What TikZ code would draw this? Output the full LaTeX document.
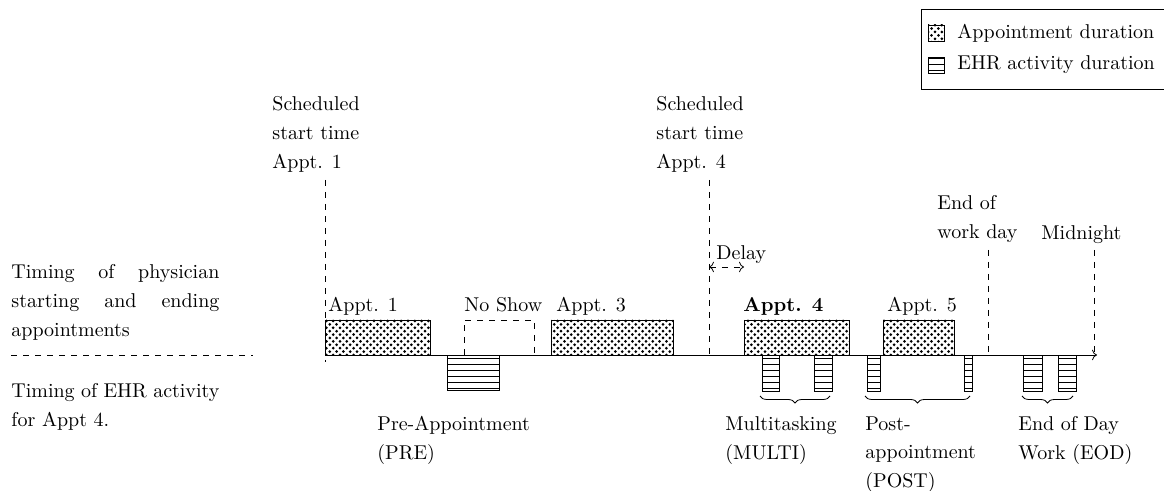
\documentclass[tikz,border=0pt]{standalone}
\usepackage{tikz}
\usetikzlibrary{positioning, arrows.meta, patterns, decorations.pathreplacing}

\pgfdeclarepatternformonly{appt dots}{\pgfqpoint{-1pt}{-1pt}}{\pgfqpoint{5pt}{5pt}}{\pgfqpoint{3.4pt}{3.4pt}}{%
  \pgfpathcircle{\pgfqpoint{0pt}{0pt}}{.75pt}%
  \pgfpathcircle{\pgfqpoint{1.7pt}{1.7pt}}{.75pt}%
  \pgfusepath{fill}}

\begin{document}
\begin{tikzpicture}[x=0.5pt, y=0.5pt,
    txt/.style={anchor=north west, inner sep=0pt, align=left, font=\linespread{1.2}\selectfont},
    lbl/.style={anchor=base west, inner sep=0pt},
    apptbox/.style={draw, pattern=appt dots},
    ehrbox/.style={draw, pattern=horizontal lines},
    swatch/.style={draw, inner sep=0pt, minimum size=8pt},
    curly/.style={decorate, decoration={brace, mirror, amplitude=3.5pt}}]
    \useasboundingbox (0,0) rectangle (1164,-491);
    \clip (0,0) rectangle (1164,-491);

    % legend
    \draw (921,-9) rectangle (1170,-89);
    \node (legappt) [swatch, pattern=appt dots] at (936,-33) {};
    \node (legapptlbl) [right=3pt of legappt] {Appointment duration};
    \node (legehr) [swatch, pattern=horizontal lines] at (936,-65) {};
    \node (legehrlbl) [right=3pt of legehr] {EHR activity duration};

    % row captions on the left
    \node (physlbl) [txt, text width=104pt, align=justify] at (11,-264) {Timing of physician starting and ending appointments};
    \coordinate (sepl) at (11,-355);
    \coordinate (sepr) at (253,-355);
    \draw [dashed] (sepl) -- (sepr);
    \node (ehrlbl) [txt, text width=104pt, align=justify] at (11,-383) {Timing of EHR activity for Appt 4.};

    % time axis
    \coordinate (t0) at (325,-355);
    \coordinate (tend) at (1097,-355);
    \draw [->] (t0) -- (tend);

    % scheduled start times
    \node (sched1) [txt] at (272,-96) {Scheduled\\start time\\Appt. 1};
    \node (sched4) [txt] at (656,-96) {Scheduled\\start time\\Appt. 4};
    \coordinate (s1top) at (325,-180);
    \coordinate (s1bot) at (325,-362);
    \coordinate (s4top) at (709,-180);
    \coordinate (s4bot) at (709,-355);
    \draw [dashed] (s1top) -- (s1bot);
    \draw [dashed] (s4top) -- (s4bot);

    % delay
    \coordinate (dl) at (709,-267);
    \coordinate (dr) at (744,-267);
    \draw [dashed, <->] (dl) -- (dr);
    \node (delay) [lbl] at (716,-260) {Delay};

    % appointments
    \draw [apptbox] (325,-320) rectangle (430,-355);
    \node (appt1) [lbl] at (328,-312) {Appt. 1};
    \draw [dashed] (464,-355) -- (464,-320) -- (534,-320) -- (534,-355);
    \node (noshow) [lbl] at (464,-312) {No Show};
    \draw [apptbox] (551,-320) rectangle (673,-355);
    \node (appt3) [lbl] at (556,-312) {Appt. 3};
    \draw [apptbox] (744,-320) rectangle (849,-355);
    \node (appt4) [lbl] at (743,-312) {\textbf{Appt. 4}};
    \draw [apptbox] (883,-320) rectangle (954,-355);
    \node (appt5) [lbl] at (887,-312) {Appt. 5};

    % end of work day and midnight
    \node (eowd) [txt] at (937,-195) {End of\\work day};
    \node (midn) [lbl] at (1041,-240) {Midnight};
    \coordinate (eowdtop) at (988,-250);
    \coordinate (eowdbot) at (988,-355);
    \coordinate (midntop) at (1094,-250);
    \coordinate (midnbot) at (1094,-355);
    \draw [dashed] (eowdtop) -- (eowdbot);
    \draw [dashed] (midntop) -- (midnbot);

    % EHR activity
    \draw [ehrbox] (447,-355) rectangle (499,-390);
    \draw [ehrbox] (762,-355) rectangle (779,-391);
    \draw [ehrbox] (814,-355) rectangle (832,-391);
    \draw [ehrbox] (867,-355) rectangle (880,-391);
    \draw [ehrbox] (964,-355) rectangle (972,-391);
    \draw [ehrbox] (1023,-355) rectangle (1042,-391);
    \draw [ehrbox] (1058,-355) rectangle (1076,-391);

    % braces and EHR labels
    \draw [curly] (760,-396) -- (830,-396);
    \draw [curly] (865,-396) -- (970,-396);
    \draw [curly] (1022,-396) -- (1073,-396);
    \node (pre) [txt] at (377,-416) {Pre-Appointment\\(PRE)};
    \node (multi) [txt] at (725,-416) {Multitasking\\(MULTI)};
    \node (post) [txt] at (865,-416) {Post-\\appointment\\(POST)};
    \node (eod) [txt] at (1018,-416) {End of Day\\Work (EOD)};
\end{tikzpicture}
\end{document}
